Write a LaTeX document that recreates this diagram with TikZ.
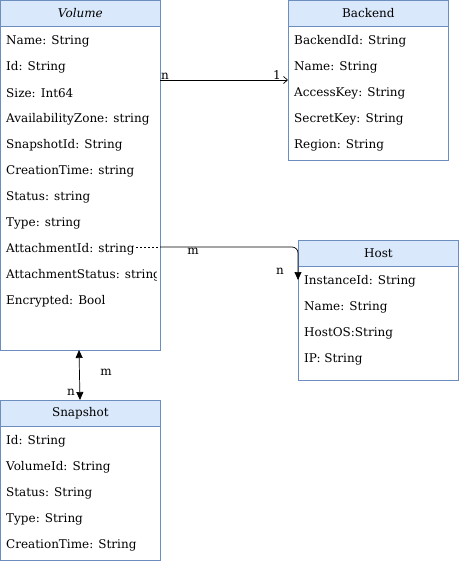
\documentclass[tikz,border=0pt]{standalone}
\usepackage{fontspec}
\setmainfont{DejaVu Serif}
\usetikzlibrary{arrows.meta}
\definecolor{hdrfill}{HTML}{DAE8FC}
\definecolor{hdrline}{HTML}{6C8EBF}
\begin{document}
\begin{tikzpicture}[x=1pt,y=-1pt,
  box/.style={draw=hdrline, fill=white, line width=0.8pt, inner sep=0pt, anchor=north west},
  hdr/.style={draw=hdrline, fill=hdrfill, line width=0.8pt, inner sep=0pt, anchor=north west, minimum height=26pt, font=\fontsize{12}{14}\selectfont},
  row/.style={anchor=west, inner sep=0pt, yshift=-1pt, font=\fontsize{12}{14}\selectfont},
  lbl/.style={inner sep=0pt, font=\fontsize{12}{14}\selectfont},
  conn/.style={line width=0.7pt},
]
\useasboundingbox (0,0) rectangle (459,561);

% Volume
\node[box, minimum width=160pt, minimum height=350pt] (vol) at (0,0) {};
\node[hdr, minimum width=160pt] (volh) at (0,0) {\itshape Volume};
\begin{scope}
\clip (0,26) rectangle (156,350);
\node[row] (v1) at (6,40) {Name: String};
\node[row] (v2) at (6,66) {Id: String};
\node[row] (v3) at (6,92) {Size: Int64};
\node[row] (v4) at (6,118) {AvailabilityZone: string};
\node[row] (v5) at (6,144) {SnapshotId: String};
\node[row] (v6) at (6,170) {CreationTime: string};
\node[row] (v7) at (6,196) {Status: string};
\node[row] (v8) at (6,222) {Type: string};
\node[row] (v9) at (6,248) {AttachmentId: string};
\node[row] (v10) at (6,274) {AttachmentStatus: string};
\node[row] (v11) at (6,300) {Encrypted: Bool};
\end{scope}

% Backend
\node[box, minimum width=160pt, minimum height=160pt] (be) at (288,0) {};
\node[hdr, minimum width=160pt] (beh) at (288,0) {Backend};
\node[row] (b1) at (294,40) {BackendId: String};
\node[row] (b2) at (294,66) {Name: String};
\node[row] (b3) at (294,92) {AccessKey: String};
\node[row] (b4) at (294,118) {SecretKey: String};
\node[row] (b5) at (294,144) {Region: String};

% Host
\node[box, minimum width=160pt, minimum height=140pt] (host) at (298,240) {};
\node[hdr, minimum width=160pt] (hosth) at (298,240) {Host};
\node[row] (h1) at (304,280) {InstanceId: String};
\node[row] (h2) at (304,306) {Name: String};
\node[row] (h3) at (304,332) {HostOS:String};
\node[row] (h4) at (304,358) {IP: String};

% Snapshot
\node[box, minimum width=160pt, minimum height=160pt] (snap) at (0,400) {};
\node[hdr, minimum width=160pt] (snaph) at (0,400) {Snapshot};
\node[row] (s1) at (6,440) {Id: String};
\node[row] (s2) at (6,466) {VolumeId: String};
\node[row] (s3) at (6,492) {Status: String};
\node[row] (s4) at (6,518) {Type: String};
\node[row] (s5) at (6,544) {CreationTime: String};

% Volume -> Backend
\coordinate (c1s) at (160,80);
\coordinate (c1e) at (288,80);
\draw[conn, -{Straight Barb[length=4pt,width=7pt]}] (c1s) -- (c1e);
\node[lbl, anchor=base west] (n1) at (161,80) {n};
\node[lbl, anchor=base east] (one1) at (281,80) {1};

% Volume -> Host
\coordinate (c2a) at (136,247);
\coordinate (c2b) at (160,247);
\coordinate (c2e) at (298,280);
\draw[conn, dashed, dash pattern=on 2pt off 2pt] (c2a) -- (c2b);
\draw[conn, rounded corners=6pt, -{Triangle[length=8pt,width=7pt]}] (c2b) -- (298,247) -- (c2e);
\node[lbl] (m2) at (193,251) {m};
\node[lbl] (n2) at (280,271) {n};

% Volume <-> Snapshot
\coordinate (c3s) at (79,350);
\coordinate (c3e) at (80,400);
\draw[conn, {Triangle[length=8pt,width=7pt]}-{Triangle[length=8pt,width=7pt]}] (c3s) -- (c3e);
\node[lbl] (m3) at (106,372) {m};
\node[lbl] (n3) at (71,392) {n};
\end{tikzpicture}
\end{document}
